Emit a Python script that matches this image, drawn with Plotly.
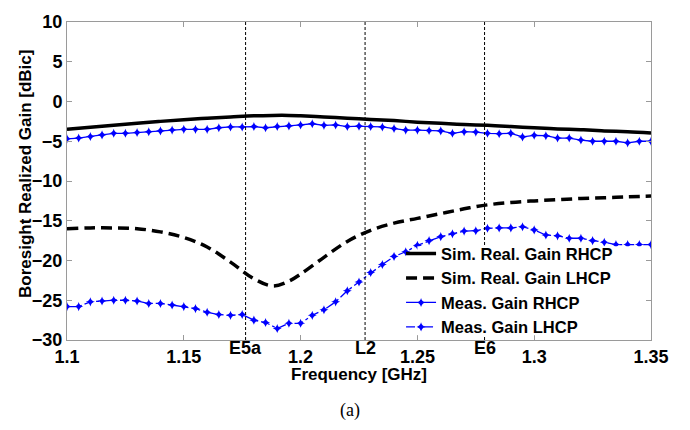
import plotly.graph_objects as go

# ---- data ----
freq_meas = [round(1.1 + 0.005 * i, 3) for i in range(51)]
meas_rhcp = [-4.7, -4.6, -4.4, -4.2, -4.0, -4.0, -3.9, -3.8, -3.7, -3.6,
             -3.5, -3.5, -3.5, -3.3, -3.2, -3.2, -3.15, -3.3, -3.15, -3.07,
             -2.95, -2.8, -3.0, -2.95, -3.15, -3.1, -3.15, -3.2, -3.4, -3.6,
             -3.6, -3.65, -3.7, -4.0, -3.8, -3.85, -4.0, -4.05, -4.0, -4.45,
             -4.25, -4.3, -4.6, -4.6, -4.85, -5.0, -5.0, -5.0, -5.2, -5.0, -5.0]
meas_lhcp = [-25.8, -25.8, -25.2, -25.1, -25.0, -25.0, -25.1, -25.4, -25.4, -25.6,
             -25.8, -26.05, -26.5, -26.8, -26.9, -26.8, -27.5, -27.8, -28.55, -27.9,
             -27.9, -26.9, -26.2, -25.2, -23.8, -22.7, -21.5, -20.5, -19.5, -18.9,
             -18.1, -17.5, -17.0, -16.65, -16.3, -16.25, -15.95, -15.9, -15.9, -15.75,
             -16.15, -16.8, -16.9, -17.2, -17.2, -17.5, -17.7, -18.0, -18.0, -18.0, -18.0]

freq_sim = [1.10, 1.11, 1.12, 1.13, 1.14, 1.15, 1.16, 1.17, 1.18, 1.188, 1.195,
            1.20, 1.21, 1.22, 1.23, 1.24, 1.25, 1.26, 1.27, 1.28, 1.29, 1.30,
            1.31, 1.32, 1.33, 1.34, 1.35]
sim_rhcp = [-3.5, -3.25, -3.0, -2.75, -2.5, -2.3, -2.1, -1.95, -1.8, -1.75, -1.75,
            -1.8, -1.95, -2.1, -2.25, -2.4, -2.6, -2.75, -2.9, -3.0, -3.15, -3.3,
            -3.45, -3.55, -3.7, -3.8, -3.95]
sim_lhcp = [-16.0, -15.9, -15.9, -16.0, -16.4, -17.1, -18.3, -20.2, -22.3, -23.2, -22.6,
            -21.7, -19.6, -17.6, -16.2, -15.3, -14.7, -14.1, -13.5, -13.0, -12.7, -12.5,
            -12.35, -12.2, -12.1, -12.0, -11.9]

band_names = ["E5a", "L2", "E6"]
band_freqs = [1.17645, 1.22760, 1.27875]

x_ticks = [1.1, 1.15, 1.2, 1.25, 1.3, 1.35]
x_ticktext = ["1.1", "1.15", "1.2", "1.25", "1.3", "1.35"]
y_ticks = [10, 5, 0, -5, -10, -15, -20, -25, -30]

FONT = "Liberation Sans, Arial, sans-serif"
BLUE = "#0000ff"

fig = go.Figure()
fig.add_trace(go.Scatter(x=freq_sim, y=sim_rhcp, mode="lines", name="Sim. Real. Gain RHCP",
                         line=dict(color="black", width=3.5, shape="spline")))
fig.add_trace(go.Scatter(x=freq_sim, y=sim_lhcp, mode="lines", name="Sim. Real. Gain LHCP",
                         line=dict(color="black", width=3.5, dash="11px,6px", shape="spline")))
fig.add_trace(go.Scatter(x=freq_meas, y=meas_rhcp, mode="lines+markers", name="Meas. Gain RHCP",
                         line=dict(color=BLUE, width=1.3),
                         marker=dict(symbol="star-diamond", size=6.5, color=BLUE)))
fig.add_trace(go.Scatter(x=freq_meas, y=meas_lhcp, mode="lines+markers", name="Meas. Gain LHCP",
                         line=dict(color=BLUE, width=1.3, dash="dashdot"),
                         marker=dict(symbol="star-diamond", size=6.5, color=BLUE)))

for name, f in zip(band_names, band_freqs):
    fig.add_shape(type="line", xref="x", yref="paper", x0=f, x1=f, y0=0, y1=1,
                  line=dict(color="black", width=1, dash="3px,2px"), layer="above")
    fig.add_annotation(x=f, y=0, xref="x", yref="paper", text=name, showarrow=False,
                       yanchor="top", yshift=4,
                       font=dict(family=FONT, size=18, color="black", weight="bold"))

# white legend backdrop (legend box in the original is opaque white)
fig.add_shape(type="rect", xref="paper", yref="paper", x0=0.6, x1=0.985, y0=0.015, y1=0.295,
              fillcolor="white", line=dict(width=0), layer="above")

fig.add_annotation(x=0.5, y=0, xref="paper", yref="paper", yanchor="middle",
                   yshift=-34, text="Frequency [GHz]", showarrow=False,
                   font=dict(family=FONT, size=17, color="black", weight="bold"))
fig.add_annotation(x=0, y=0.5, xref="paper", yref="paper", xanchor="center", yanchor="middle",
                   xshift=-42, yshift=7, textangle=-90, text="Boresight Realized Gain [dBic]",
                   showarrow=False,
                   font=dict(family=FONT, size=17, color="black", weight="bold"))
fig.add_annotation(x=0.485, y=0, xref="paper", yref="paper", yanchor="top",
                   yshift=-58, text="(a)", showarrow=False,
                   font=dict(family="Liberation Serif, Times New Roman, serif", size=18, color="black"))

axis_common = dict(showgrid=False, zeroline=False, showline=True, linecolor="#9a9a9a",
                   linewidth=1, mirror="ticks", ticks="inside", ticklen=5, tickcolor="#9a9a9a",
                   tickfont=dict(family=FONT, size=18, color="black", weight="bold"))

fig.update_layout(
    width=690, height=430,
    margin=dict(l=67, r=39, t=14, b=90),
    paper_bgcolor="white", plot_bgcolor="white",
    xaxis=dict(range=[1.1, 1.35], tickvals=x_ticks, ticktext=x_ticktext, **axis_common),
    yaxis=dict(range=[-30, 10], tickvals=y_ticks, **axis_common),
    legend=dict(x=0.572, y=0.326, xanchor="left", yanchor="top", bgcolor="rgba(0,0,0,0)",
                borderwidth=0, tracegroupgap=0, itemwidth=30,
                font=dict(family=FONT, size=16.5, color="black", weight="bold")),
    showlegend=True,
)

fig.write_html("out.html")
